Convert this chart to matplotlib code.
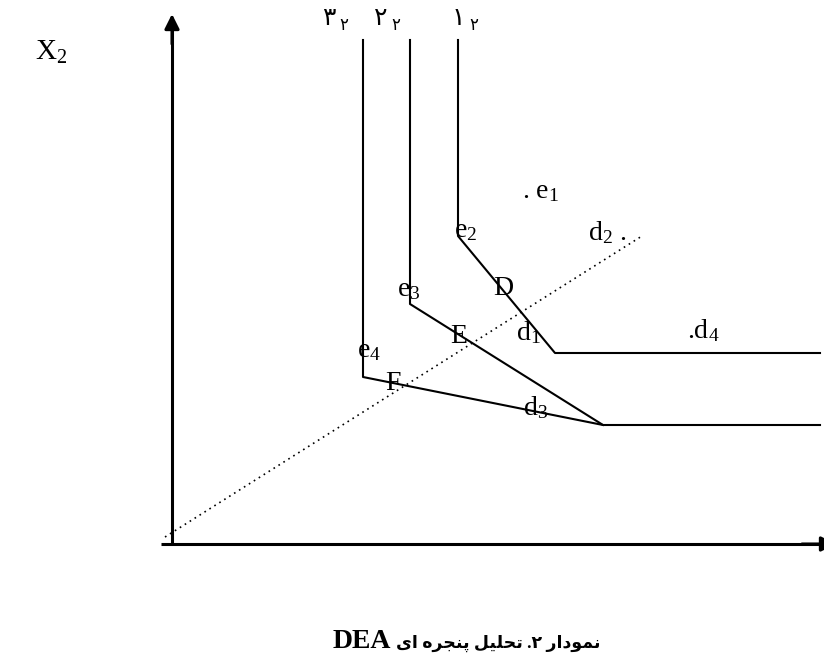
import matplotlib
matplotlib.use("Agg")
from matplotlib import pyplot as plt

plt.rcParams['font.family'] = ['Liberation Serif', 'DejaVu Sans']
plt.rcParams['mathtext.fontset'] = 'custom'
plt.rcParams['mathtext.rm'] = 'Liberation Serif'
plt.rcParams['mathtext.default'] = 'regular'

# isoquant frontiers (x1, x2), origin at the axes corner
front_1_x = [286, 286, 383, 648]
front_1_y = [504, 308, 191, 191]
front_2_x = [238, 238, 431, 648]
front_2_y = [504, 240, 119, 119]
front_3_x = [191, 191, 431]
front_3_y = [504, 167, 119]

# ray through the origin
ray_x = [-7, 470]
ray_y = [7, 308]

# frontier names on top: main digit and subscript
front_names = ['\u06f3', '\u06f2', '\u06f1']
front_sub = '\u06f2'
name_x = [150, 202, 280]

# point labels
point_labels = [r'. $e_1$', r'$e_2$', r'$d_2$ .', 'D', r'$e_3$', 'E',
                r'$d_1$', r'$e_4$', 'F', r'$d_3$', r'.$d_4$']
point_x = [350, 282, 416, 321, 225, 278, 344, 185, 213, 351, 515]
point_y = [346, 307, 304, 249, 248, 201, 204, 187, 154, 129, 206]

# caption, Persian part shaped by hand (visual order)
caption_latin = 'DEA'
caption_fa = ('\ufbfc\ufe8d \ufee9\ufeae\ufea0\ufee8\ufb58 '
              '\ufede\ufbff\ufee0\ufea4\ufe97 .\u06f2 '
              '\ufead\ufe8d\ufea9\ufeee\ufee4\ufee7')

fig = plt.figure(figsize=(8.24, 6.55), dpi=100)
ax = fig.add_axes([0, 0, 1, 1])
ax.set_xlim(-172, 652)
ax.set_ylim(-111, 544)
ax.axis('off')

# axes with arrows
ax.plot([0, 0], [-1, 515], color='black', lw=2.2, solid_capstyle='butt')
ax.plot([-11, 650], [0, 0], color='black', lw=2.2, solid_capstyle='butt')
ax.annotate('', xy=(0, 530), xytext=(0, 500), annotation_clip=False,
            arrowprops=dict(arrowstyle='-|>', color='black', lw=2.2,
                            mutation_scale=22, shrinkA=0, shrinkB=0))
ax.annotate('', xy=(664, 0), xytext=(630, 0), annotation_clip=False,
            arrowprops=dict(arrowstyle='-|>', color='black', lw=2.2,
                            mutation_scale=22, shrinkA=0, shrinkB=0))

for fx, fy in [(front_1_x, front_1_y), (front_2_x, front_2_y),
               (front_3_x, front_3_y)]:
    ax.plot(fx, fy, color='black', lw=1.5)

ax.plot(ray_x, ray_y, color='black', lw=1.2, linestyle=(0, (1, 2.5)))

for name, nx in zip(front_names, name_x):
    ax.text(nx, 519, name, fontsize=18, ha='left', va='baseline')
    ax.text(nx + 17, 514, front_sub, fontsize=12, ha='left', va='baseline')

for lab, px, py in zip(point_labels, point_x, point_y):
    ax.text(px, py, lab, fontsize=20, ha='left', va='baseline')

ax.text(-137, 484, r'$X_2$', fontsize=21, ha='left', va='baseline')

ax.text(161, -104, caption_latin, fontsize=20, fontweight='bold',
        ha='left', va='baseline')
ax.text(224, -104, caption_fa, fontsize=12.5, fontweight='bold',
        ha='left', va='baseline')

fig.savefig('out.png', dpi=100)
